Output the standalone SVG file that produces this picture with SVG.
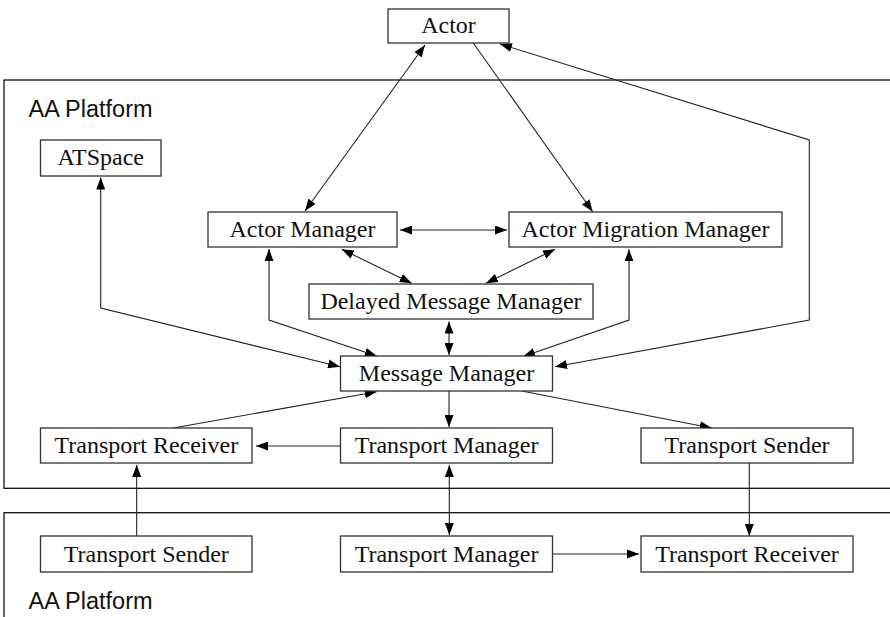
<svg xmlns="http://www.w3.org/2000/svg" width="890" height="617" viewBox="0 0 890 617">
<style>
.box{fill:#fff;stroke:#333;stroke-width:1.3}
.plat{fill:none;stroke:#111;stroke-width:1.3}
.lbl{font-family:"Liberation Serif","Times New Roman",serif;font-size:24px;fill:#111;text-anchor:middle}
.plbl{font-family:"Liberation Sans",Arial,sans-serif;font-size:23.5px;fill:#111}
.c{fill:none;stroke:#222;stroke-width:1.1}
</style>
<defs>
<marker id="ah" viewBox="0 0 12 9" refX="12" refY="4.5" markerWidth="12" markerHeight="9" markerUnits="userSpaceOnUse" orient="auto-start-reverse">
<path d="M0,0 L12,4.5 L0,9 z" fill="#000"/>
</marker>
</defs>
<rect width="890" height="617" fill="#fff"/>
<g id="platform1">
<rect class="plat" x="4" y="80" width="900" height="408.3"/>
<text class="plbl" x="28.5" y="116.5">AA Platform</text>
</g>
<g id="platform2">
<rect class="plat" x="4" y="512.7" width="900" height="200"/>
<text class="plbl" x="28.5" y="609">AA Platform</text>
</g>
<g id="connectors">
<path class="c" d="M425,45 L305,211" marker-start="url(#ah)" marker-end="url(#ah)"/>
<path class="c" d="M473.3,43 L592.7,211.7" marker-end="url(#ah)"/>
<path class="c" d="M500,44 L809.3,140 L809.3,320 L555,366.7" marker-start="url(#ah)" marker-end="url(#ah)"/>
<path class="c" d="M100.7,177.5 L100.7,308 L340,366.7" marker-start="url(#ah)" marker-end="url(#ah)"/>
<path class="c" d="M269,249 L269,320 L376.7,356" marker-start="url(#ah)" marker-end="url(#ah)"/>
<path class="c" d="M400,230 L507,230" marker-start="url(#ah)" marker-end="url(#ah)"/>
<path class="c" d="M341.7,249.3 L411.7,283.3" marker-start="url(#ah)" marker-end="url(#ah)"/>
<path class="c" d="M555,249.3 L486,283.3" marker-start="url(#ah)" marker-end="url(#ah)"/>
<path class="c" d="M449,321.5 L449,355" marker-start="url(#ah)" marker-end="url(#ah)"/>
<path class="c" d="M629,249.3 L629,320 L523,356.5" marker-start="url(#ah)" marker-end="url(#ah)"/>
<path class="c" d="M173.3,428 L376.7,391.7" marker-end="url(#ah)"/>
<path class="c" d="M449,391 L449,427" marker-end="url(#ah)"/>
<path class="c" d="M521.7,391 L711.7,428" marker-end="url(#ah)"/>
<path class="c" d="M340.5,446 L256,446" marker-end="url(#ah)"/>
<path class="c" d="M136.7,536 L136.7,465" marker-end="url(#ah)"/>
<path class="c" d="M449.3,465 L449.3,535" marker-start="url(#ah)" marker-end="url(#ah)"/>
<path class="c" d="M749.3,463 L749.3,536" marker-end="url(#ah)"/>
<path class="c" d="M552.7,554 L639,554" marker-end="url(#ah)"/>
</g>
<g id="actor"><rect class="box" x="388" y="9" width="121" height="34"/><text class="lbl" x="448.5" y="32.5">Actor</text></g>
<g id="atspace"><rect class="box" x="40.5" y="140" width="120.5" height="36"/><text class="lbl" x="100.7" y="165">ATSpace</text></g>
<g id="actor-manager"><rect class="box" x="208" y="212" width="189" height="35"/><text class="lbl" x="302.5" y="237">Actor Manager</text></g>
<g id="actor-migration-manager"><rect class="box" x="509" y="212" width="273" height="35"/><text class="lbl" x="645.5" y="237">Actor Migration Manager</text></g>
<g id="delayed-message-manager"><rect class="box" x="309" y="284" width="284" height="35"/><text class="lbl" x="451" y="309">Delayed Message Manager</text></g>
<g id="message-manager"><rect class="box" x="340.5" y="356" width="212" height="35"/><text class="lbl" x="446.5" y="381">Message Manager</text></g>
<g id="transport-receiver-1"><rect class="box" x="40.5" y="428" width="211.5" height="35"/><text class="lbl" x="146.3" y="453">Transport Receiver</text></g>
<g id="transport-manager-1"><rect class="box" x="340.5" y="428" width="212" height="35"/><text class="lbl" x="446.5" y="453">Transport Manager</text></g>
<g id="transport-sender-1"><rect class="box" x="641" y="428" width="212" height="35"/><text class="lbl" x="747" y="453">Transport Sender</text></g>
<g id="transport-sender-2"><rect class="box" x="40.5" y="536" width="211.5" height="36"/><text class="lbl" x="146.3" y="561.5">Transport Sender</text></g>
<g id="transport-manager-2"><rect class="box" x="340.5" y="536" width="212" height="36"/><text class="lbl" x="446.5" y="561.5">Transport Manager</text></g>
<g id="transport-receiver-2"><rect class="box" x="641" y="536" width="212" height="36"/><text class="lbl" x="747" y="561.5">Transport Receiver</text></g>
</svg>
